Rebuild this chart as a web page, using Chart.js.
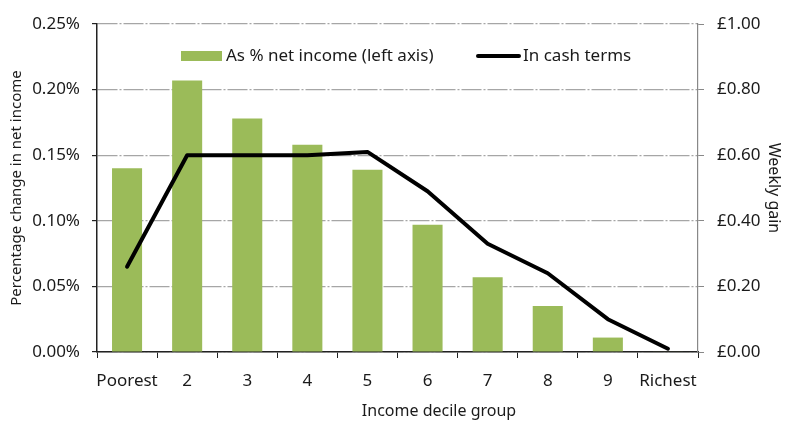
<!DOCTYPE html>
<html>
<head>
<meta charset="utf-8">
<script src="https://cdn.jsdelivr.net/npm/chart.js@4"></script>
<style>
  html, body { margin: 0; padding: 0; background: #fff; }
  #wrap { width: 787px; height: 422px; }
</style>
</head>
<body>
<div id="wrap"><canvas id="incomeChart" width="787" height="422"></canvas></div>
<script>
// data
const deciles = ['Poorest', '2', '3', '4', '5', '6', '7', '8', '9', 'Richest'];
const pctNetIncome = [0.140, 0.207, 0.178, 0.158, 0.139, 0.097, 0.057, 0.035, 0.011, 0.0005];
const cashGain = [0.26, 0.60, 0.60, 0.60, 0.61, 0.49, 0.33, 0.24, 0.10, 0.01];
const leftTicks = [0, 0.05, 0.10, 0.15, 0.20, 0.25];
const rightTicks = [0, 0.20, 0.40, 0.60, 0.80, 1.00];
const xTitle = 'Income decile group';

const FONT = '"Noto Sans", "Open Sans", sans-serif';
const TEXT = '#1a1a1a';

// legend inside the plot and x title off-centre, as in the original
const extras = {
    id: 'extras',
    afterDraw(chart) {
        const ctx = chart.ctx;
        const bar = chart.data.datasets[0];
        const line = chart.data.datasets[1];
        ctx.save();
        ctx.font = '17px ' + FONT;
        ctx.textBaseline = 'middle';

        ctx.fillStyle = bar.backgroundColor;
        ctx.fillRect(181, 51, 41, 10);
        ctx.fillStyle = TEXT;
        ctx.fillText(bar.label, 226, 56);

        ctx.strokeStyle = line.borderColor;
        ctx.lineWidth = 4;
        ctx.lineCap = 'round';
        ctx.beginPath();
        ctx.moveTo(478, 56);
        ctx.lineTo(519, 56);
        ctx.stroke();
        ctx.fillText(line.label, 523, 56);

        ctx.font = '16px ' + FONT;
        ctx.textAlign = 'center';
        ctx.fillText(xTitle, 439, 411);
        ctx.restore();
    }
};

document.addEventListener('DOMContentLoaded', function() {
    const ctx = document.getElementById('incomeChart');
    new Chart(ctx, {
        data: {
            labels: deciles,
            datasets: [{
                type: 'bar',
                label: 'As % net income (left axis)',
                data: pctNetIncome,
                yAxisID: 'y',
                backgroundColor: '#9bbb59',
                categoryPercentage: 1.0,
                barPercentage: 0.5,
                order: 2
            }, {
                type: 'line',
                label: 'In cash terms',
                data: cashGain,
                yAxisID: 'y1',
                borderColor: '#000',
                borderWidth: 4,
                pointRadius: 0,
                tension: 0,
                borderCapStyle: 'round',
                borderJoinStyle: 'round',
                order: 1
            }]
        },
        options: {
            responsive: false,
            animation: false,
            layout: { padding: { left: 8, right: 4, top: 24, bottom: 0 } },
            plugins: {
                legend: { display: false },
                tooltip: { enabled: false }
            },
            scales: {
                x: {
                    offset: true,
                    grid: {
                        offset: true,
                        drawOnChartArea: false,
                        drawTicks: true,
                        tickLength: 6,
                        color: '#222'
                    },
                    border: { color: '#222', width: 1.5 },
                    ticks: {
                        font: { family: FONT, size: 17 },
                        color: TEXT,
                        padding: 13,
                        maxRotation: 0,
                        autoSkip: false
                    },
                    afterFit: function(scale) { scale.height = 70; }
                },
                y: {
                    position: 'left',
                    min: 0,
                    max: 0.25,
                    afterBuildTicks: function(scale) {
                        scale.ticks = leftTicks.map(v => ({ value: v }));
                    },
                    ticks: {
                        font: { family: FONT, size: 17 },
                        color: TEXT,
                        padding: 12,
                        callback: function(value) { return value.toFixed(2) + '%'; }
                    },
                    grid: {
                        color: '#a6a6a6',
                        lineWidth: 1.2,
                        tickLength: 5,
                        tickColor: '#222',
                        tickBorderDash: []
                    },
                    border: { color: '#222', width: 1.5, dash: [20, 2, 2, 2] },
                    title: {
                        display: true,
                        text: 'Percentage change in net income',
                        font: { family: FONT, size: 15 },
                        color: TEXT,
                        padding: { top: 0, bottom: 0 }
                    },
                    afterFit: function(scale) { scale.width = 89; }
                },
                y1: {
                    position: 'right',
                    min: 0,
                    max: 1,
                    afterBuildTicks: function(scale) {
                        scale.ticks = rightTicks.map(v => ({ value: v }));
                    },
                    ticks: {
                        font: { family: FONT, size: 17 },
                        color: TEXT,
                        padding: 13,
                        callback: function(value) { return '£' + value.toFixed(2); }
                    },
                    grid: {
                        drawOnChartArea: false,
                        tickLength: 6,
                        color: '#888'
                    },
                    border: { color: '#888', width: 1.2 },
                    title: {
                        display: true,
                        text: 'Weekly gain',
                        font: { family: FONT, size: 16 },
                        color: TEXT,
                        padding: { top: 0, bottom: 0 }
                    },
                    afterFit: function(scale) { scale.width = 85; }
                }
            }
        },
        plugins: [extras]
    });
});
</script>
</body>
</html>
